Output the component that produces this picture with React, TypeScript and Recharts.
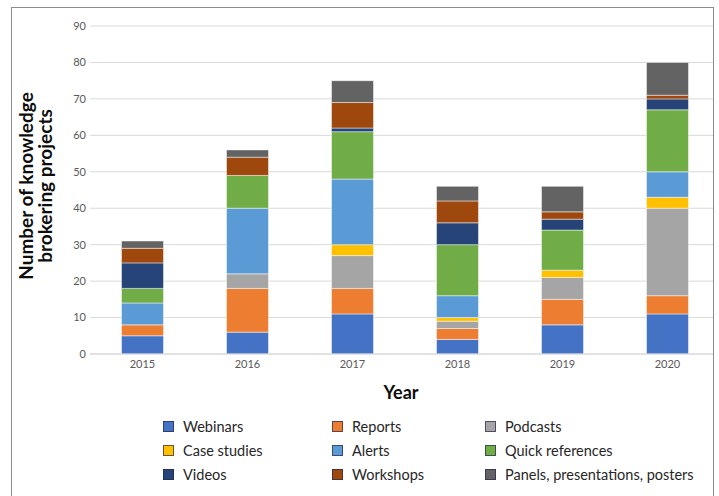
import React from 'react';
import { BarChart, Bar, XAxis, YAxis, CartesianGrid } from 'recharts';

const years = ['2015', '2016', '2017', '2018', '2019', '2020'];
const webinars = [5, 6, 11, 4, 8, 11];
const reports = [3, 12, 7, 3, 7, 5];
const podcasts = [0, 4, 9, 2, 6, 24];
const caseStudies = [0, 0, 3, 1, 2, 3];
const alerts = [6, 18, 18, 6, 0, 7];
const quickReferences = [4, 9, 13, 14, 11, 17];
const videos = [7, 0, 1, 6, 3, 3];
const workshops = [4, 5, 7, 6, 2, 1];
const panels = [2, 2, 6, 4, 7, 9];
const yTicks = [0, 10, 20, 30, 40, 50, 60, 70, 80, 90];

// stacked bottom -> top; legend is read row by row
const series = [
  { key: 'webinars', name: 'Webinars', color: '#4472C4', values: webinars },
  { key: 'reports', name: 'Reports', color: '#ED7D31', values: reports },
  { key: 'podcasts', name: 'Podcasts', color: '#A5A5A5', values: podcasts },
  { key: 'caseStudies', name: 'Case studies', color: '#FFC000', values: caseStudies },
  { key: 'alerts', name: 'Alerts', color: '#5B9BD5', values: alerts },
  { key: 'quickReferences', name: 'Quick references', color: '#70AD47', values: quickReferences },
  { key: 'videos', name: 'Videos', color: '#264478', values: videos },
  { key: 'workshops', name: 'Workshops', color: '#9E480E', values: workshops },
  { key: 'panels', name: 'Panels, presentations, posters', color: '#636363', values: panels },
];

const data = years.map((year, i) => {
  const row: Record<string, string | number> = { year };
  series.forEach((s) => {
    row[s.key] = s.values[i];
  });
  return row;
});

const YTitle = (props: any) => {
  const { viewBox } = props;
  const cx = viewBox.x + 45;
  const cy = viewBox.y + viewBox.height / 2 - 4;
  return (
    <text
      transform={`rotate(-90, ${cx}, ${cy})`}
      x={cx}
      y={cy}
      textAnchor="middle"
      fill="#0d0d0d"
      fontSize={19}
      fontWeight={700}
    >
      <tspan x={cx} dy={-12}>Number of knowledge</tspan>
      <tspan x={cx} dy={19}>brokering projects</tspan>
    </text>
  );
};

const colWidths = [169, 153, 220];

function Legend9() {
  return (
    <div
      style={{
        position: 'absolute',
        left: 151,
        top: 406,
        display: 'grid',
        gridTemplateColumns: colWidths.map((w) => w + 'px').join(' '),
        gridAutoRows: '24px',
        fontSize: 14.5,
        color: '#262626',
      }}
    >
      {series.map((s) => (
        <div key={s.key} style={{ display: 'flex', alignItems: 'center' }}>
          <span
            style={{
              display: 'inline-block',
              width: 9,
              height: 9,
              background: s.color,
              border: '1px solid rgba(40,40,80,0.7)',
              marginRight: 9,
            }}
          />
          <span>{s.name}</span>
        </div>
      ))}
    </div>
  );
}

export default function App() {
  return (
    <div
      style={{
        position: 'absolute',
        left: 11,
        top: 7,
        width: 701,
        height: 500,
        border: '1px solid #8c8c8c',
        overflow: 'hidden',
        background: '#fff',
        fontFamily: 'Lato, "Noto Sans", sans-serif',
      }}
    >
      <div style={{ position: 'absolute', left: -12, top: -8 }}>
        <BarChart
          width={725}
          height={496}
          data={data}
          margin={{ top: 26, right: 5, left: 0, bottom: 112 }}
          barCategoryGap="30%"
        >
          <CartesianGrid vertical={false} stroke="#d9d9d9" strokeWidth={1} />
          <XAxis
            dataKey="year"
            axisLine={{ stroke: '#d9d9d9' }}
            tickLine={false}
            tickSize={6}
            tickMargin={0}
            height={30}
            tick={{ fill: '#595959', fontSize: 11 }}
            label={{ value: 'Year', position: 'bottom', offset: 2, dx: -4, fill: '#0d0d0d', fontSize: 18, fontWeight: 700 }}
          />
          <YAxis
            width={90}
            domain={[0, 90]}
            ticks={yTicks}
            interval={0}
            axisLine={false}
            tickLine={false}
            tickSize={4}
            tickMargin={0}
            tick={{ fill: '#595959', fontSize: 11 }}
            label={<YTitle />}
          />
          {series.map((s) => (
            <Bar
              key={s.key}
              dataKey={s.key}
              name={s.name}
              stackId="a"
              fill={s.color}
              stroke="#ffffff"
              strokeOpacity={0.6}
              strokeWidth={0.8}
              isAnimationActive={false}
            />
          ))}
        </BarChart>
      </div>
      <Legend9 />
    </div>
  );
}
